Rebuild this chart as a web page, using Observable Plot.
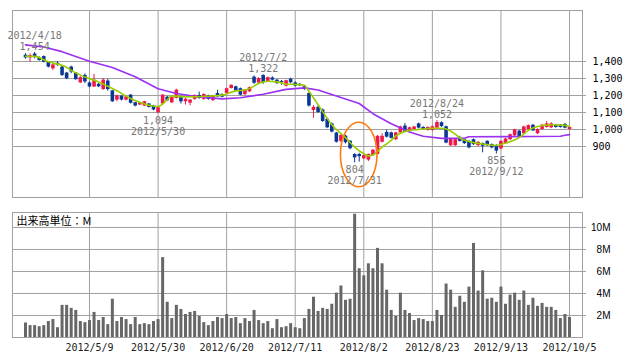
<!DOCTYPE html>
<html><head><meta charset="utf-8">
<script src="https://cdn.jsdelivr.net/npm/d3@7"></script>
<script src="https://cdn.jsdelivr.net/npm/@observablehq/plot@0.6"></script>
<style>
body{margin:0;background:#fff;}
#chart{position:relative;width:638px;height:362px;background:#fff;}
#chart svg{position:absolute;left:0;display:block;overflow:visible;}
</style></head><body><div id="chart"></div>
<script>
// ---- data ----
const dates = [
"2012/4/16","2012/4/17","2012/4/18","2012/4/19","2012/4/20","2012/4/23","2012/4/24","2012/4/25","2012/4/26","2012/4/27",
"2012/5/1","2012/5/2","2012/5/7","2012/5/8","2012/5/9","2012/5/10","2012/5/11","2012/5/14","2012/5/15","2012/5/16",
"2012/5/17","2012/5/18","2012/5/21","2012/5/22","2012/5/23","2012/5/24","2012/5/25","2012/5/28","2012/5/29","2012/5/30",
"2012/5/31","2012/6/1","2012/6/4","2012/6/5","2012/6/6","2012/6/7","2012/6/8","2012/6/11","2012/6/12","2012/6/13",
"2012/6/14","2012/6/15","2012/6/18","2012/6/19","2012/6/20","2012/6/21","2012/6/22","2012/6/25","2012/6/26","2012/6/27",
"2012/6/28","2012/6/29","2012/7/2","2012/7/3","2012/7/4","2012/7/5","2012/7/6","2012/7/9","2012/7/10","2012/7/11",
"2012/7/12","2012/7/13","2012/7/17","2012/7/18","2012/7/19","2012/7/20","2012/7/23","2012/7/24","2012/7/25","2012/7/26",
"2012/7/27","2012/7/30","2012/7/31","2012/8/1","2012/8/2","2012/8/3","2012/8/6","2012/8/7","2012/8/8","2012/8/9",
"2012/8/10","2012/8/13","2012/8/14","2012/8/15","2012/8/16","2012/8/17","2012/8/20","2012/8/21","2012/8/22","2012/8/23",
"2012/8/24","2012/8/27","2012/8/28","2012/8/29","2012/8/30","2012/8/31","2012/9/3","2012/9/4","2012/9/5","2012/9/6",
"2012/9/7","2012/9/10","2012/9/11","2012/9/12","2012/9/13","2012/9/14","2012/9/18","2012/9/19","2012/9/20","2012/9/21",
"2012/9/24","2012/9/25","2012/9/26","2012/9/27","2012/9/28","2012/10/1","2012/10/2","2012/10/3","2012/10/4","2012/10/5"];

const open = [1437,1421,1444,1421,1429,1396,1357,1390,1367,1332,
1367,1332,1274,1318,1274,1250,1266,1235,1285,1227,
1173,1196,1173,1202,1157,1144,1138,1150,1138,1098,
1150,1190,1157,1183,1192,1163,1155,1177,1200,1177,
1198,1170,1212,1206,1212,1241,1251,1240,1205,1222,
1308,1273,1318,1280,1303,1290,1283,1255,1296,1274,
1266,1251,1212,1112,1130,1115,1060,1033,979,930,
961,931,853,853,828,820,847,853,925,983,
980,940,980,1020,987,1000,1033,1012,995,995,
1008,1040,1016,905,905,950,940,930,940,905,
917,930,911,905,886,917,940,963,990,975,
1000,1025,975,1000,1012,1010,1025,1025,1030,1000];

const high = [1446,1445,1454,1428,1433,1400,1386,1398,1372,1336,
1373,1335,1310,1328,1280,1324,1270,1300,1295,1230,
1202,1200,1195,1206,1160,1160,1166,1153,1142,1134,
1205,1195,1192,1237,1196,1182,1176,1204,1220,1210,
1202,1201,1231,1210,1243,1263,1255,1244,1235,1250,
1315,1305,1322,1308,1310,1294,1288,1290,1302,1280,
1270,1256,1216,1140,1140,1120,1064,1038,983,968,
966,935,858,860,850,856,882,964,975,995,
985,984,1020,1035,1014,1018,1038,1016,1015,1020,
1052,1045,1020,948,944,960,945,934,944,929,
921,934,915,910,934,948,973,1002,995,1020,
1027,1030,1004,1030,1046,1040,1030,1030,1035,1016];

const low = [1414,1396,1415,1402,1392,1362,1348,1372,1312,1293,
1328,1290,1270,1270,1245,1247,1246,1230,1225,1160,
1163,1168,1168,1150,1133,1140,1135,1126,1110,1094,
1145,1165,1152,1180,1150,1144,1140,1172,1178,1172,
1172,1165,1188,1186,1208,1238,1223,1198,1200,1218,
1265,1270,1266,1276,1286,1265,1260,1250,1270,1250,
1252,1230,1132,1066,1095,1042,1005,980,920,922,
915,880,804,808,822,812,842,850,920,950,
945,935,975,985,982,996,1004,996,990,990,
1004,1013,916,900,900,926,912,886,906,900,
863,900,886,856,880,912,935,958,950,970,
995,988,970,996,1008,1005,1008,1008,1004,996];

const close = [1421,1435,1429,1406,1396,1367,1380,1377,1318,1299,
1338,1293,1305,1280,1250,1290,1251,1290,1235,1163,
1198,1173,1192,1154,1138,1157,1163,1130,1115,1128,
1202,1169,1188,1231,1163,1178,1173,1200,1183,1206,
1177,1198,1192,1190,1240,1260,1227,1202,1231,1246,
1272,1300,1275,1305,1290,1270,1275,1287,1275,1255,
1257,1235,1138,1130,1100,1047,1010,985,925,965,
922,887,833,840,846,853,878,960,960,955,
948,980,1015,987,1010,1015,1008,1000,1012,1016,
1041,1017,920,944,940,930,917,892,911,925,
901,905,892,873,930,944,969,998,956,1015,
1023,992,1000,1025,1033,1033,1012,1012,1008,1012];

// volume in millions of shares
const volume = [1.32,1.08,1.08,0.98,1.08,1.45,1.63,0.89,2.92,2.92,
2.65,2.46,1.45,1.35,1.54,2.28,1.54,1.82,1.17,3.48,
1.45,1.82,1.63,1.17,1.82,1.17,1.26,1.17,1.45,1.63,
7.26,3.2,1.72,2.92,2.55,2.09,2.28,2.37,1.91,1.35,
1.08,1.45,1.82,1.72,2.09,1.72,1.82,1.26,1.72,1.45,
2.46,1.54,1.26,1.45,0.8,1.63,0.89,0.98,1.26,0.89,
0.8,1.72,2.55,3.66,2.37,2.65,2.55,3.02,4.03,4.68,
3.38,3.48,11.2,6.25,5.6,6.7,6.25,8.1,6.7,4.3,
2.46,1.91,4.03,2.46,2.18,1.54,1.72,1.63,1.45,1.45,
2.46,2.0,4.86,4.3,2.74,3.75,3.2,4.58,8.55,4.22,
6.06,3.48,3.57,3.2,4.58,3.02,3.85,4.03,3.38,4.22,
2.92,3.57,2.83,3.1,2.74,2.74,2.46,1.72,2.09,1.82];

// short moving average (green), read at these dates
const maShortDates = ["2012/4/16","2012/4/18","2012/4/23","2012/4/27","2012/5/1","2012/5/7","2012/5/11","2012/5/17","2012/5/22","2012/5/28",
"2012/5/30","2012/5/31","2012/6/1","2012/6/4","2012/6/7","2012/6/14","2012/6/19","2012/6/22","2012/6/26","2012/6/27",
"2012/6/29","2012/7/3","2012/7/5","2012/7/9","2012/7/11","2012/7/13","2012/7/17","2012/7/20","2012/7/24","2012/7/27",
"2012/7/31","2012/8/2","2012/8/3","2012/8/6","2012/8/8","2012/8/10","2012/8/13","2012/8/16","2012/8/20","2012/8/23",
"2012/8/27","2012/8/30","2012/8/31","2012/9/4","2012/9/7","2012/9/12","2012/9/14","2012/9/20","2012/9/24","2012/9/26",
"2012/10/1","2012/10/4","2012/10/5"];
const maShortValues = [1431,1430,1398,1366,1348,1320,1280,1228,1182,1143,
1135,1150,1175,1198,1192,1196,1202,1227,1232,1241,
1270,1284,1280,1268,1265,1260,1225,1105,1028,952,
896,857,845,850,896,936,962,995,1000,1007,
1007,973,950,930,915,906,920,952,995,1018,
1028,1024,1018];

// long moving average (purple), read at these dates
const maLongDates = ["2012/4/16","2012/4/20","2012/4/26","2012/5/9","2012/5/16","2012/5/23","2012/5/30","2012/6/5","2012/6/11","2012/6/19",
"2012/6/25","2012/7/2","2012/7/9","2012/7/13","2012/7/19","2012/7/23","2012/7/26","2012/8/1","2012/8/6","2012/8/10",
"2012/8/16","2012/8/21","2012/8/27","2012/9/3","2012/9/4","2012/10/3","2012/10/4","2012/10/5"];
const maLongValues = [1498,1485,1458,1402,1365,1310,1240,1212,1196,1180,
1187,1207,1236,1245,1232,1215,1188,1153,1093,1034,
985,960,948,948,957,960,966,970];

const tickDates = ["2012/5/9","2012/5/30","2012/6/20","2012/7/11","2012/8/2","2012/8/23","2012/9/13","2012/10/5"];
const priceTicks = [900, 1000, 1100, 1200, 1300, 1400];
const volumeTicks = [2, 4, 6, 8, 10];
const volumeUnitLabel = "出来高単位：M";

const annDates = ["2012/4/18","2012/5/30","2012/7/2","2012/7/31","2012/8/24","2012/9/12"];
const annValues = [1454, 1094, 1322, 804, 1052, 856];
const annKinds = ["high","low","high","low","high","low"];

// circled region (dates and price band)
const circledDates = ["2012/7/26", "2012/8/7"];
const circledPrices = [660, 1040];

// ---- styling ----
const RED = "#f01848", BLUE = "#0a3796", GREEN = "#9acc00", PURPLE = "#9b30f0", ORANGE = "#ff7a10";
const GRID = "#a0a0a0";
const MONO = "'DejaVu Sans Mono', monospace";
const W = 638, ML = 12, MR = 56;
const xDomain = [-2.84, 121.84];

const idx = d => dates.indexOf(d);
const candles = dates.map((date, i) => ({i, date, open: open[i], high: high[i], low: low[i], close: close[i], volume: volume[i]}));
const cColor = d => d.close >= d.open ? RED : BLUE;
const tickPos = tickDates.map(idx);
const maShort = maShortDates.map((d, k) => ({i: idx(d), v: maShortValues[k]}));
const maLong = maLongDates.map((d, k) => ({i: idx(d), v: maLongValues[k]}));
const anns = annDates.map((d, k) => ({i: idx(d), date: d, v: annValues[k], kind: annKinds[k]}));
const annHigh = anns.filter(a => a.kind === "high");
const annLow = anns.filter(a => a.kind === "low");
const fmt = d3.format(",");

function circleMark(index, scales) {
  const x1 = scales.x(idx(circledDates[0])), x2 = scales.x(idx(circledDates[1]));
  const y1 = scales.y(circledPrices[1]), y2 = scales.y(circledPrices[0]);
  return d3.create("svg:ellipse")
    .attr("cx", (x1 + x2) / 2).attr("cy", (y1 + y2) / 2)
    .attr("rx", (x2 - x1) / 2).attr("ry", (y2 - y1) / 2)
    .attr("fill", "none").attr("stroke", ORANGE).attr("stroke-width", 1.6)
    .node();
}

const priceChart = Plot.plot({
  width: W, height: 200,
  marginLeft: ML, marginRight: MR, marginTop: 10, marginBottom: 3,
  style: {fontFamily: MONO, fontSize: "10px", background: "transparent", overflow: "visible"},
  x: {type: "linear", domain: xDomain, axis: null},
  y: {domain: [600, 1700]},
  color: {type: "identity"},
  marks: [
    Plot.ruleY(priceTicks, {stroke: GRID}),
    Plot.ruleX(tickPos, {stroke: GRID}),
    Plot.axisY({anchor: "right", ticks: priceTicks, tickSize: 3, tickPadding: 7, label: null,
      tickFormat: fmt, stroke: GRID, fill: "#000", fontSize: 10, textAnchor: "start"}),
    Plot.frame({stroke: GRID}),
    Plot.ruleX(candles, {x: "i", y1: "low", y2: "high", stroke: cColor, strokeWidth: 1}),
    Plot.ruleX(candles, {x: "i", y1: "open", y2: "close", stroke: cColor, strokeWidth: 3.6}),
    Plot.line(maLong, {x: "i", y: "v", stroke: PURPLE, strokeWidth: 1.6}),
    Plot.line(maShort, {x: "i", y: "v", stroke: GREEN, strokeWidth: 1.6, curve: "monotone-x"}),
    circleMark,
    Plot.text(annHigh, {x: "i", y: "v", text: d => fmt(d.v), dy: -6, fill: "#777", fontSize: 10}),
    Plot.text(annHigh, {x: "i", y: "v", text: "date", dy: -17, fill: "#777", fontSize: 10}),
    Plot.text(annLow, {x: "i", y: "v", text: d => fmt(d.v), dy: 7, fill: "#777", fontSize: 10}),
    Plot.text(annLow, {x: "i", y: "v", text: "date", dy: 18, fill: "#777", fontSize: 10})
  ]
});
priceChart.style.top = "0px";

const volumeChart = Plot.plot({
  width: W, height: 162,
  marginLeft: ML, marginRight: MR, marginTop: 12, marginBottom: 25,
  style: {fontFamily: MONO, fontSize: "10px", background: "transparent", overflow: "visible"},
  x: {type: "linear", domain: xDomain},
  y: {domain: [0, 11.36]},
  marks: [
    Plot.ruleY(volumeTicks, {stroke: GRID}),
    Plot.ruleX(tickPos, {stroke: GRID}),
    Plot.axisY({anchor: "right", ticks: volumeTicks, tickSize: 3, tickPadding: 25, label: null,
      tickFormat: d => d + "M", stroke: GRID, fill: "#000", fontSize: 10, textAnchor: "end",
      fontFamily: "'Liberation Sans', Arial, sans-serif"}),
    Plot.axisX({ticks: tickPos, tickSize: 0, tickPadding: 6, label: null, tickFormat: i => dates[i], fill: "#222", fontSize: 10}),
    Plot.ruleX(candles, {x: "i", y1: () => 0, y2: "volume", stroke: "#676767", strokeWidth: 3}),
    Plot.frame({stroke: GRID}),
    Plot.text([volumeUnitLabel], {frameAnchor: "top-left", dx: 4, dy: 5, fill: "#000", fontSize: 11,
      fontFamily: "'Noto Sans CJK JP', sans-serif", lineAnchor: "top", textAnchor: "start"})
  ]
});
volumeChart.style.top = "200px";

const root = document.getElementById("chart");
root.append(priceChart, volumeChart);
</script></body></html>
